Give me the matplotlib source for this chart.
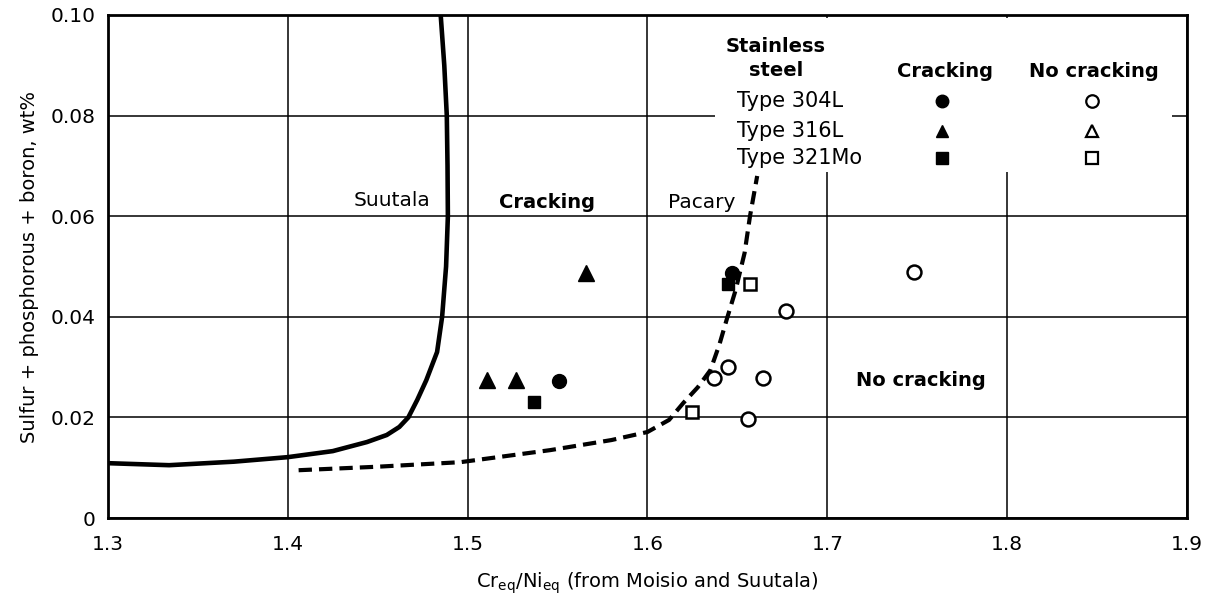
import numpy as np
import matplotlib
matplotlib.use("Agg")
import matplotlib.pyplot as plt
from matplotlib.patches import Rectangle

# ---- data ------------------------------------------------------------------
X_TICKS = [1.3, 1.4, 1.5, 1.6, 1.7, 1.8, 1.9]
Y_TICKS = [0, 0.02, 0.04, 0.06, 0.08, 0.10]
Y_TICK_LABELS = ["0", "0.02", "0.04", "0.06", "0.08", "0.10"]

# Suutala boundary (solid)
suutala_x = [1.300, 1.334, 1.370, 1.400, 1.425, 1.444, 1.455, 1.462, 1.467, 1.472,
             1.477, 1.483, 1.4858, 1.4880, 1.4890, 1.4888, 1.4884, 1.4870, 1.4850]
suutala_y = [0.0109, 0.0105, 0.0112, 0.0121, 0.0133, 0.0151, 0.0165, 0.0181, 0.0200, 0.0235,
             0.0274, 0.0330, 0.0400, 0.0500, 0.0600, 0.0700, 0.0800, 0.0900, 0.1000]

# Pacary boundary (dashed)
pacary_x = [1.406, 1.450, 1.496, 1.546, 1.580, 1.600, 1.612, 1.620, 1.628, 1.635,
            1.640, 1.644, 1.649, 1.654, 1.657, 1.661]
pacary_y = [0.0095, 0.0102, 0.0111, 0.0135, 0.0155, 0.0171, 0.0195, 0.0229, 0.0260, 0.0294,
            0.0345, 0.0394, 0.0453, 0.0527, 0.0600, 0.0680]

# cracking (filled)
crack_304L_x = [1.551, 1.647]
crack_304L_y = [0.0272, 0.0488]
crack_316L_x = [1.511, 1.527, 1.566]
crack_316L_y = [0.0274, 0.0274, 0.0487]
crack_321Mo_x = [1.537, 1.645]
crack_321Mo_y = [0.0231, 0.0465]

# no cracking (open)
nocrack_304L_x = [1.637, 1.645, 1.664, 1.656, 1.677, 1.748]
nocrack_304L_y = [0.0278, 0.0300, 0.0278, 0.0197, 0.0412, 0.0489]
nocrack_321Mo_x = [1.625, 1.657]
nocrack_321Mo_y = [0.0210, 0.0465]

LEGEND_ROWS = ["Type 304L", "Type 316L", "Type 321Mo"]
LEGEND_MARKERS = ["o", "^", "s"]

plt.rcParams["font.family"] = ["DejaVu Sans"]

fig = plt.figure(figsize=(12.08, 5.95), dpi=100)
ax = fig.add_axes([0.0894, 0.1294, 0.8932, 0.8454])

ax.set_xlim(1.3, 1.9)
ax.set_ylim(0, 0.10)
ax.set_xticks(X_TICKS)
ax.set_xticklabels([f"{v:.1f}" for v in X_TICKS])
ax.set_yticks(Y_TICKS)
ax.set_yticklabels(Y_TICK_LABELS)
ax.tick_params(length=0, labelsize=14.5)
ax.tick_params(axis="x", pad=12)
ax.tick_params(axis="y", pad=9)
ax.grid(True, color="black", lw=1.1, zorder=0)
for s in ax.spines.values():
    s.set_linewidth(2.0)
    s.set_zorder(10)

# curves
ax.plot(suutala_x, suutala_y, color="black", lw=3.3, solid_capstyle="butt", zorder=3)
ax.plot(pacary_x, pacary_y, color="black", lw=3.0, dashes=(3.2, 1.7), zorder=3)

ms = 10
ax.plot(crack_304L_x, crack_304L_y, "o", color="black", ms=ms, zorder=4)
ax.plot(crack_316L_x, crack_316L_y, "^", color="black", ms=ms + 1, zorder=4)
ax.plot(crack_321Mo_x, crack_321Mo_y, "s", color="black", ms=ms - 1, zorder=4)
ax.plot(nocrack_304L_x, nocrack_304L_y, "o", mfc="white", mec="black", mew=1.8, ms=ms, zorder=4)
ax.plot(nocrack_321Mo_x, nocrack_321Mo_y, "s", mfc="white", mec="black", mew=1.8, ms=ms - 1, zorder=4)

# region labels
ax.text(1.458, 0.0632, "Suutala", fontsize=14.5, ha="center", va="center", zorder=5)
ax.text(1.544, 0.0628, "Cracking", fontsize=14, fontweight="bold", ha="center", va="center", zorder=5)
ax.text(1.630, 0.0628, "Pacary", fontsize=14.5, ha="center", va="center", zorder=5)
ax.text(1.752, 0.0274, "No cracking", fontsize=14, fontweight="bold", ha="center", va="center", zorder=5)

# legend table (white block covering the grid)
ax.add_patch(Rectangle((0.563, 0.688), 0.423, 0.306, transform=ax.transAxes,
                       facecolor="white", edgecolor="none", zorder=6))
ax.text(0.619, 0.938, "Stainless", transform=ax.transAxes, fontsize=14, fontweight="bold",
        ha="center", va="center", zorder=7)
ax.text(0.619, 0.889, "steel", transform=ax.transAxes, fontsize=14, fontweight="bold",
        ha="center", va="center", zorder=7)
ax.text(0.776, 0.887, "Cracking", transform=ax.transAxes, fontsize=14, fontweight="bold",
        ha="center", va="center", zorder=7)
ax.text(0.914, 0.887, "No cracking", transform=ax.transAxes, fontsize=14, fontweight="bold",
        ha="center", va="center", zorder=7)
row_y = [0.829, 0.769, 0.716]
for label, mk, yy in zip(LEGEND_ROWS, LEGEND_MARKERS, row_y):
    ax.text(0.583, yy, label, transform=ax.transAxes, fontsize=15, ha="left", va="center", zorder=7)
    ax.plot([0.773], [yy], mk, color="black", ms=9, transform=ax.transAxes, zorder=7)
    ax.plot([0.912], [yy], mk, mfc="white", mec="black", mew=1.6, ms=9,
            transform=ax.transAxes, zorder=7)

ax.set_xlabel(r"Cr$_{\mathregular{eq}}$/Ni$_{\mathregular{eq}}$ (from Moisio and Suutala)",
              fontsize=14, labelpad=12)
ax.set_ylabel("Sulfur + phosphorous + boron, wt%", fontsize=14, labelpad=8)

fig.savefig("out.png", dpi=100)
